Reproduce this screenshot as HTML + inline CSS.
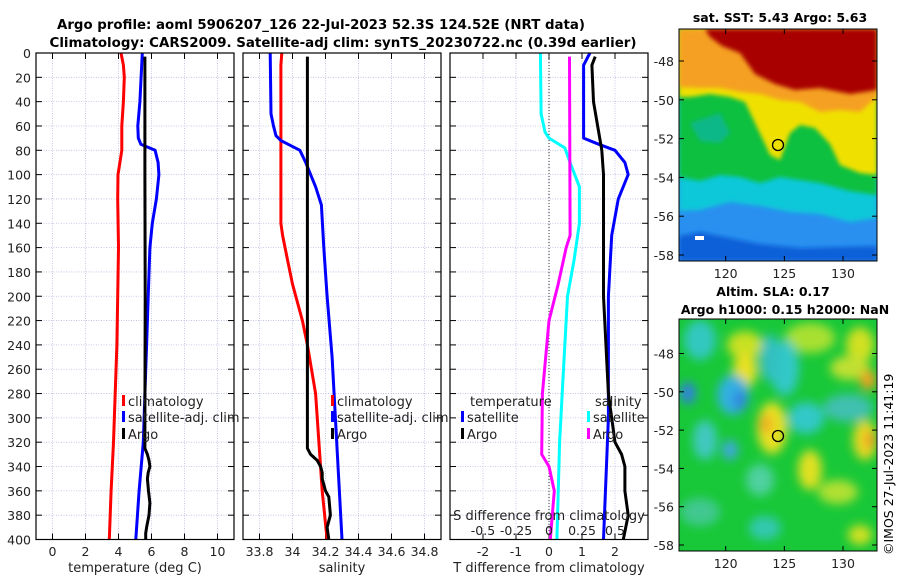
<!DOCTYPE html>
<html><head><meta charset="utf-8"><style>
html,body{margin:0;padding:0;background:#fff;}
svg{display:block;font-family:"DejaVu Sans","Liberation Sans",sans-serif;}
</style></head><body>
<svg id="fig" width="900" height="580" viewBox="0 0 900 580" xmlns="http://www.w3.org/2000/svg">
<defs>
<filter id="blur1" x="-20%" y="-20%" width="140%" height="140%"><feGaussianBlur stdDeviation="2"/></filter>
<filter id="blur2" x="-50%" y="-50%" width="200%" height="200%"><feGaussianBlur stdDeviation="5"/></filter>
<clipPath id="clipMap1"><rect x="679" y="29" width="198" height="232"/></clipPath>
<clipPath id="clipMap2"><rect x="679" y="319" width="198" height="232"/></clipPath>
</defs>
<text x="321" y="29" text-anchor="middle" font-size="13" font-weight="bold" textLength="528" lengthAdjust="spacingAndGlyphs">Argo profile: aoml 5906207_126 22-Jul-2023 52.3S 124.52E (NRT data)</text>
<text x="343" y="47" text-anchor="middle" font-size="13" font-weight="bold" textLength="587" lengthAdjust="spacingAndGlyphs">Climatology: CARS2009. Satellite-adj clim: synTS_20230722.nc (0.39d earlier)</text>

<!-- Map 1: SST -->
<g clip-path="url(#clipMap1)">
<rect x="679" y="29" width="198" height="232" fill="#2a90f0"/>
<polygon fill="#1060d8" points="679,236 700,232 730,238 760,244 800,248 877,246 877,261 679,261" filter="url(#blur1)"/>
<polygon fill="#10c8d8" points="679,29 877,29 877,218 850,222 820,214 790,212 760,206 730,202 700,210 679,211" filter="url(#blur1)"/>
<polygon fill="#10c040" points="679,29 877,29 877,195 850,191 820,183 800,180 780,177 760,183 740,177 720,175 700,181 679,177" filter="url(#blur1)"/>
<polygon fill="#10b888" points="690,123 720,113 730,133 720,143 700,141" filter="url(#blur1)"/>
<polygon fill="#f0e000" points="679,29 877,29 877,175 860,173 840,165 830,144 815,128 800,125 790,133 780,160 770,155 765,144 755,123 745,102 730,97 710,94 690,97 679,97" filter="url(#blur1)"/>
<polygon fill="#f5a020" points="679,29 877,29 877,97 860,112 840,110 820,112 800,102 780,100 760,94 740,92 720,88 700,88 679,87" filter="url(#blur1)"/>
<polygon fill="#a80000" points="705,29 877,29 877,90 850,94 820,88 795,90 775,84 755,74 740,53 722,46 710,37" filter="url(#blur1)"/>
<rect x="695" y="236" width="9" height="4" fill="#fff"/>
</g>
<rect x="679" y="29" width="198" height="232" fill="none" stroke="#000" stroke-width="1"/>
<circle cx="778" cy="145" r="5.5" fill="none" stroke="#000" stroke-width="1.3"/>
<text x="780" y="22" text-anchor="middle" font-size="12.5" font-weight="bold">sat. SST: 5.43 Argo: 5.63</text>

<!-- Map 2: SLA -->
<g clip-path="url(#clipMap2)">
<rect x="679" y="319" width="198" height="232" fill="#18c838"/>
<g filter="url(#blur2)">
<ellipse cx="745" cy="345" rx="18" ry="14" fill="#c8e020"/>
<ellipse cx="810" cy="338" rx="25" ry="15" fill="#a8e030"/>
<ellipse cx="860" cy="345" rx="14" ry="18" fill="#d0e020"/>
<ellipse cx="700" cy="340" rx="16" ry="20" fill="#30c8c0"/>
<ellipse cx="745" cy="370" rx="12" ry="18" fill="#e8e020"/>
<ellipse cx="785" cy="368" rx="14" ry="28" fill="#30c8c8"/>
<ellipse cx="770" cy="358" rx="10" ry="24" fill="#30c0c0"/>
<ellipse cx="850" cy="368" rx="20" ry="12" fill="#c0e030"/>
<ellipse cx="868" cy="380" rx="8" ry="10" fill="#f0a020"/>
<ellipse cx="688" cy="393" rx="8" ry="11" fill="#3080e0"/>
<ellipse cx="733" cy="395" rx="16" ry="20" fill="#30b0e0"/>
<ellipse cx="740" cy="400" rx="6" ry="10" fill="#3080e0"/>
<ellipse cx="772" cy="428" rx="15" ry="26" fill="#e8e020"/>
<ellipse cx="766" cy="424" rx="7" ry="10" fill="#f0b020"/>
<ellipse cx="806" cy="418" rx="18" ry="16" fill="#30c8c8"/>
<ellipse cx="848" cy="408" rx="25" ry="14" fill="#40c0b0"/>
<ellipse cx="865" cy="440" rx="12" ry="20" fill="#e8d820"/>
<ellipse cx="870" cy="440" rx="5" ry="8" fill="#f09020"/>
<ellipse cx="705" cy="440" rx="12" ry="20" fill="#40c8c0"/>
<ellipse cx="730" cy="450" rx="8" ry="10" fill="#40a8e0"/>
<ellipse cx="810" cy="470" rx="12" ry="20" fill="#e0e020"/>
<ellipse cx="760" cy="480" rx="14" ry="16" fill="#50d0a0"/>
<ellipse cx="838" cy="492" rx="20" ry="12" fill="#b0e030"/>
<ellipse cx="700" cy="512" rx="20" ry="14" fill="#40c890"/>
<ellipse cx="765" cy="528" rx="16" ry="12" fill="#30c8b0"/>
<ellipse cx="860" cy="535" rx="12" ry="10" fill="#d0e020"/>
</g>
</g>
<rect x="679" y="319" width="198" height="232" fill="none" stroke="#000" stroke-width="1"/>
<circle cx="778" cy="436" r="5.5" fill="none" stroke="#000" stroke-width="1.3"/>
<text x="773" y="296" text-anchor="middle" font-size="12.5" font-weight="bold">Altim. SLA: 0.17</text>
<text x="785" y="314" text-anchor="middle" font-size="12.5" font-weight="bold">Argo h1000: 0.15 h2000: NaN</text>
<text transform="translate(893,555) rotate(-90)" font-size="12.5">©IMOS 27-Jul-2023 11:41:19</text>

<g id="plots"></g>
</svg>
<script>
// ---- data ----
var depthTicks = [0,20,40,60,80,100,120,140,160,180,200,220,240,260,280,300,320,340,360,380,400];
var tempTicks = [0,2,4,6,8,10];
var salTicks = [33.8,34,34.2,34.4,34.6,34.8];
var salTickLabels = ["33.8","34","34.2","34.4","34.6","34.8"];
var tdTicks = [-2,-1,0,1,2];
var sdTicks = [-0.5,-0.25,0,0.25,0.5];
var sdTickLabels = ["-0.5","-0.25","0","0.25","0.5"];

var tClimDepth = [0,10,20,40,60,80,100,120,160,200,240,280,320,360,400];
var tClim      = [4.15,4.3,4.35,4.3,4.2,4.2,3.97,3.95,4.0,3.95,3.9,3.8,3.7,3.55,3.44];
var tSatDepth  = [0,40,60,70,75,80,90,100,120,140,160,200,240,280,320,360,400];
var tSat       = [5.44,5.3,5.17,5.2,5.35,6.22,6.4,6.45,6.3,6.05,5.9,5.8,5.7,5.6,5.5,5.25,5.05];
var tArgoDepth = [3,100,200,300,325,330,335,340,345,350,360,370,380,390,395,400];
var tArgo      = [5.6,5.6,5.62,5.6,5.6,5.75,5.85,5.9,5.8,5.75,5.82,5.9,5.85,5.7,5.65,5.65];

var sClimDepth = [0,10,60,140,150,170,190,220,240,280,320,360,400];
var sClim      = [33.935,33.93,33.93,33.93,33.94,33.97,34.0,34.06,34.09,34.14,34.16,34.18,34.21];
var sSatDepth  = [0,50,60,68,72,80,90,100,110,125,160,200,250,300,350,400];
var sSat       = [33.865,33.87,33.885,33.9,33.93,34.045,34.08,34.11,34.14,34.175,34.19,34.21,34.24,34.26,34.28,34.3];
var sArgoDepth = [3,100,200,325,330,335,340,345,350,360,365,380,390,400];
var sArgo      = [34.09,34.09,34.09,34.09,34.11,34.15,34.17,34.18,34.18,34.2,34.22,34.23,34.21,34.22];

var dTSatDepth = [0,10,60,70,75,80,90,100,120,150,200,300,400];
var dTSat      = [1.24,1.05,1.05,1.05,1.5,2.0,2.3,2.4,2.1,1.9,1.8,1.8,1.65];
var dTArgoDepth= [3,10,40,80,100,200,280,300,320,330,340,360,380,400];
var dTArgo     = [1.4,1.3,1.35,1.6,1.65,1.65,1.8,1.9,2.0,2.2,2.3,2.3,2.4,2.25];
var dSSatDepth = [0,50,65,70,78,90,110,140,170,200,260,320,400];
var dSSat      = [-0.065,-0.06,-0.03,0,0.12,0.16,0.23,0.23,0.19,0.14,0.11,0.08,0.06];
var dSArgoDepth= [3,150,160,190,220,280,330,340,360,400];
var dSArgo     = [0.155,0.16,0.13,0.07,0.0,-0.05,-0.055,0.0,0.04,0.01];

var latTicks = [-48,-50,-52,-54,-56,-58];
var lonTicks = [120,125,130];

// ---- geometry ----
var NS = "http://www.w3.org/2000/svg";
var TOP = 53, BOT = 539.5;
function yD(d){ return TOP + d*(BOT-TOP)/400; }
function scaleX(x0,x1,v0,v1){ return function(v){ return x0 + (v-v0)*(x1-x0)/(v1-v0); }; }
var xT  = scaleX(36,234,-1,11);
var xS  = scaleX(243,441,33.7,34.9);
var xTD = scaleX(450,648,-3,3);
var xSD = scaleX(450,648,-0.75,0.75);
var root = document.getElementById('plots');
function mk(tag, attrs, parent){
  var e = document.createElementNS(NS, tag);
  for (var k in attrs) e.setAttribute(k, attrs[k]);
  (parent||root).appendChild(e); return e;
}
function txt(x,y,s,size,anchor,parent){
  var t = mk('text',{x:x,y:y,'font-size':size,'text-anchor':anchor||'middle',fill:'#222'},parent);
  t.textContent = s; return t;
}

function panel(name, x0, x1, xs, ticks, labels, xlabel){
  var g = mk('g',{});
  
  
  depthTicks.forEach(function(d){
    mk('line',{x1:x0,x2:x1,y1:yD(d),y2:yD(d),stroke:'#b8bce0','stroke-width':0.8,'stroke-dasharray':'1,1.5'},g);
    mk('line',{x1:x0,x2:x0+6,y1:yD(d),y2:yD(d),stroke:'#000'},g);
    mk('line',{x1:x1-6,x2:x1,y1:yD(d),y2:yD(d),stroke:'#000'},g);
  });
  ticks.forEach(function(v,i){
    var x = xs(v);
    mk('line',{x1:x,x2:x,y1:TOP,y2:BOT,stroke:'#b8bce0','stroke-width':0.8,'stroke-dasharray':'1,1.5'},g);
    mk('line',{x1:x,x2:x,y1:BOT,y2:BOT-6,stroke:'#000'},g);
    mk('line',{x1:x,x2:x,y1:TOP,y2:TOP+6,stroke:'#000'},g);
    var t = txt(x,556,labels[i],12.5,'middle',g);
    
    
  });
  var xl = txt((x0+x1)/2,572,xlabel,13,'middle',g);
  
  
  return g;
}
function frame(x0,x1,g){
  mk('rect',{x:x0,y:TOP,width:x1-x0,height:BOT-TOP,fill:'none',stroke:'#000','stroke-width':1.2},g);
}
function series(g, depths, vals, xs, color, name){
  var pts = depths.map(function(d,i){ return xs(vals[i]).toFixed(1)+','+yD(d).toFixed(1); }).join(' ');
  var p = mk('polyline',{points:pts,fill:'none',stroke:color,'stroke-width':3,'stroke-linejoin':'round'},g);
  
  
}
function legendEntry(g,x,y,color,label){
  var e = mk('g',{},g);
  
  
  mk('rect',{x:x,y:y-6,width:3,height:11,fill:color},e);
  txt(x+6,y+5,label,13,'start',e);
}

// depth labels
depthTicks.forEach(function(d){
  var t = txt(31,yD(d)+5,String(d),12.5,'end');
  
  
});

var g1 = panel('temperature-panel',36,234,xT,tempTicks,tempTicks.map(String),'temperature (deg C)');
series(g1,tClimDepth,tClim,xT,'#ff0000','temp-climatology-line');
series(g1,tSatDepth,tSat,xT,'#0000ff','temp-satellite-line');
series(g1,tArgoDepth,tArgo,xT,'#000000','temp-argo-line');
frame(36,234,g1);
legendEntry(g1,122,401,'#ff0000','climatology');
legendEntry(g1,122,417,'#0000ff','satellite-adj. clim');
legendEntry(g1,122,434,'#000000','Argo');

var g2 = panel('salinity-panel',243,441,xS,salTicks,salTickLabels,'salinity');
series(g2,sClimDepth,sClim,xS,'#ff0000','sal-climatology-line');
series(g2,sSatDepth,sSat,xS,'#0000ff','sal-satellite-line');
series(g2,sArgoDepth,sArgo,xS,'#000000','sal-argo-line');
frame(243,441,g2);
legendEntry(g2,331,401,'#ff0000','climatology');
legendEntry(g2,331,417,'#0000ff','satellite-adj. clim');
legendEntry(g2,331,434,'#000000','Argo');

var g3 = panel('difference-panel',450,648,xTD,tdTicks,tdTicks.map(String),'T difference from climatology');
mk('line',{x1:xTD(0),x2:xTD(0),y1:TOP,y2:BOT,stroke:'#333','stroke-width':1,'stroke-dasharray':'1,2'},g3);
series(g3,dSSatDepth,dSSat,xSD,'#00ffff','sdiff-satellite-line');
series(g3,dSArgoDepth,dSArgo,xSD,'#ff00ff','sdiff-argo-line');
series(g3,dTSatDepth,dTSat,xTD,'#0000ff','tdiff-satellite-line');
series(g3,dTArgoDepth,dTArgo,xTD,'#000000','tdiff-argo-line');
frame(450,648,g3);
var lt = txt(470,406,'temperature',13,'start',g3);


var ls = txt(595,406,'salinity',13,'start',g3);


legendEntry(g3,461,417,'#0000ff','satellite');
legendEntry(g3,461,434,'#000000','Argo');
legendEntry(g3,587,417,'#00ffff','satellite');
legendEntry(g3,587,434,'#ff00ff','Argo');
var sdl = txt(549,520,'S difference from climatology',13,'middle',g3);


sdTicks.forEach(function(v,i){
  var t = txt(xSD(v),535,sdTickLabels[i],12.5,'middle',g3);
  
  
});

// map axes
var lat1 = scaleX(61,255,-48,-58), lat2 = scaleX(353.5,545,-48,-58), lonX = scaleX(725.7,843,120,130);
function mapAxes(latS, bottom, top){
  latTicks.forEach(function(v){
    var y = latS(v);
    var t = txt(674,y+5,String(v),12.5,'end');
    
    
    mk('line',{x1:679,x2:684,y1:y,y2:y,stroke:'#000'});
    mk('line',{x1:872,x2:877,y1:y,y2:y,stroke:'#000'});
  });
  lonTicks.forEach(function(v){
    var x = lonX(v);
    var t = txt(x,bottom+17,String(v),12.5,'middle');
    
    
    mk('line',{x1:x,x2:x,y1:bottom,y2:bottom-5,stroke:'#000'});
    mk('line',{x1:x,x2:x,y1:top,y2:top+5,stroke:'#000'});
  });
}
mapAxes(lat1,261,29);
mapAxes(lat2,551,319);
</script>
</body></html>
